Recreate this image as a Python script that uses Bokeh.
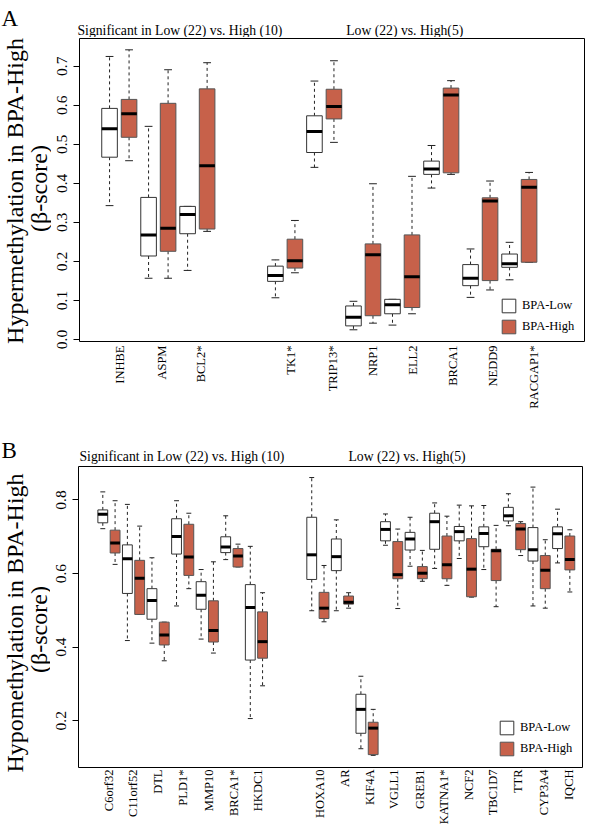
import math
from bokeh.plotting import figure
from bokeh.layouts import column, row
from bokeh.models import (Label, Legend, LegendItem, FixedTicker, Range1d,
                          NumeralTickFormatter)
from bokeh.embed import file_html
from bokeh.resources import INLINE

FONT = "Liberation Serif"
RED = "#C7614A"
WHISK = "#222222"

# ---------------- Panel A data (hypermethylation) ----------------
a_genes = ["INHBE", "ASPM", "BCL2*", "TK1*", "TRIP13*", "NRP1", "ELL2",
           "BRCA1", "NEDD9", "RACGAP1*"]
a_group = [0, 0, 0, 1, 1, 1, 1, 1, 1, 1]
a_low_lower = [0.343, 0.157, 0.177, 0.107, 0.441, 0.025, 0.037, 0.388, 0.108, 0.153]
a_low_q1 = [0.467, 0.214, 0.271, 0.149, 0.479, 0.035, 0.066, 0.423, 0.138, 0.185]
a_low_med = [0.540, 0.268, 0.320, 0.164, 0.533, 0.057, 0.089, 0.437, 0.157, 0.194]
a_low_q3 = [0.592, 0.364, 0.341, 0.188, 0.573, 0.086, 0.103, 0.457, 0.192, 0.219]
a_low_upper = [0.725, 0.546, 0.341, 0.204, 0.662, 0.098, 0.103, 0.497, 0.232, 0.249]
a_high_lower = [0.458, 0.157, 0.277, 0.171, 0.505, 0.042, 0.066, 0.423, 0.127, 0.198]
a_high_q1 = [0.518, 0.226, 0.283, 0.183, 0.565, 0.061, 0.082, 0.427, 0.151, 0.198]
a_high_med = [0.578, 0.285, 0.445, 0.202, 0.597, 0.217, 0.161, 0.626, 0.355, 0.390]
a_high_q3 = [0.615, 0.605, 0.642, 0.257, 0.641, 0.245, 0.268, 0.644, 0.363, 0.410]
a_high_upper = [0.742, 0.691, 0.709, 0.305, 0.714, 0.399, 0.418, 0.663, 0.406, 0.428]
a_yticks = [0.0, 0.1, 0.2, 0.3, 0.4, 0.5, 0.6, 0.7]
a_ytitle = ["Hypermethylation in BPA-High", "(\u03b2-score)"]

# ---------------- Panel B data (hypomethylation) ----------------
b_genes = ["C6orf32", "C11orf52", "DTL", "PLD1*", "MMP10", "BRCA1*", "HKDC1",
           "HOXA10", "AR", "KIF4A", "VGLL1", "GREB1", "KATNA1*", "NCF2",
           "TBC1D7", "TTR", "CYP3A4", "IQCH"]
b_group = [0] * 7 + [1] * 11
b_low_lower = [0.722, 0.418, 0.411, 0.512, 0.422, 0.638, 0.206, 0.499, 0.499,
               0.124, 0.677, 0.620, 0.614, 0.641, 0.611, 0.730, 0.512, 0.629]
b_low_q1 = [0.738, 0.546, 0.476, 0.653, 0.503, 0.657, 0.365, 0.584, 0.608,
            0.166, 0.689, 0.664, 0.666, 0.689, 0.673, 0.743, 0.634, 0.668]
b_low_med = [0.761, 0.640, 0.527, 0.701, 0.541, 0.672, 0.508, 0.651, 0.646,
             0.231, 0.720, 0.694, 0.741, 0.714, 0.709, 0.757, 0.665, 0.708]
b_low_q3 = [0.773, 0.678, 0.559, 0.749, 0.578, 0.700, 0.570, 0.753, 0.694,
            0.272, 0.741, 0.712, 0.764, 0.728, 0.727, 0.780, 0.725, 0.727]
b_low_upper = [0.822, 0.788, 0.643, 0.798, 0.611, 0.757, 0.674, 0.861, 0.746,
               0.321, 0.762, 0.753, 0.792, 0.786, 0.785, 0.817, 0.835, 0.775]
b_high_lower = [0.625, 0.489, 0.363, 0.559, 0.384, 0.618, 0.295, 0.469, 0.506,
                0.106, 0.505, 0.579, 0.568, 0.536, 0.510, 0.649, 0.506, 0.550]
b_high_q1 = [0.656, 0.489, 0.406, 0.595, 0.414, 0.618, 0.370, 0.478, 0.517,
             0.108, 0.586, 0.586, 0.586, 0.537, 0.581, 0.665, 0.559, 0.610]
b_high_med = [0.683, 0.587, 0.433, 0.645, 0.445, 0.648, 0.415, 0.506, 0.522,
              0.180, 0.597, 0.601, 0.624, 0.612, 0.662, 0.721, 0.609, 0.638]
b_high_q3 = [0.718, 0.636, 0.468, 0.734, 0.526, 0.668, 0.496, 0.549, 0.539,
             0.196, 0.687, 0.619, 0.702, 0.695, 0.666, 0.736, 0.649, 0.702]
b_high_upper = [0.798, 0.729, 0.468, 0.764, 0.632, 0.680, 0.548, 0.622, 0.548,
                0.231, 0.721, 0.663, 0.756, 0.784, 0.731, 0.741, 0.692, 0.719]
b_yticks = [0.2, 0.4, 0.6, 0.8]
b_ytitle = ["Hypomethylation in BPA-High", "(\u03b2-score)"]

group_titles = ["Significant in Low (22) vs. High (10)", "Low (22) vs. High(5)"]
legend_labels = ["BPA-Low", "BPA-High"]

# ---------------- layout constants (pixels) ----------------
A_LABEL_SHIFT_PX = [1.1, 3.3, 3.3, 6, 8.4, 9.7, 10.7, 11.7, 13.1, 14.3]
B_LABEL_SHIFT_PX = [-0.2, -0.8, -0.3, 0.3, 1.3, 1.9, 1.1, 2, 2.6, 3, 2.8, 3.5,
                    2.8, 3.8, 3.5, 3.9, 4.5, 5.1]


def positions(group, gap):
    lo, hi, mid = [], [], []
    for i, g in enumerate(group):
        b = 2 * i + 1 + g * gap
        lo.append(b)
        hi.append(b + 1)
        mid.append(b + 0.5)
    return lo, hi, mid


def draw_boxes(p, xs, lower, q1, med, q3, upper, fill, line):
    cl = [x - 0.2 for x in xs]
    cr = [x + 0.2 for x in xs]
    p.segment(x0=xs, y0=q3, x1=xs, y1=upper, line_color=WHISK, line_width=1,
              line_dash="3 3")
    p.segment(x0=xs, y0=q1, x1=xs, y1=lower, line_color=WHISK, line_width=1,
              line_dash="3 3")
    p.segment(x0=cl, y0=upper, x1=cr, y1=upper, line_color=WHISK, line_width=1)
    p.segment(x0=cl, y0=lower, x1=cr, y1=lower, line_color=WHISK, line_width=1)
    box = p.vbar(x=xs, width=0.8, bottom=q1, top=q3, fill_color=fill,
                 line_color=line, line_width=1)
    p.segment(x0=[x - 0.4 for x in xs], y0=med, x1=[x + 0.4 for x in xs], y1=med,
              line_color="black", line_width=3)
    return box


def strip(left, right, top, bottom):
    """A blank text strip whose data coordinates equal page pixels."""
    s = figure(width=right - left, height=bottom - top, output_backend="svg",
               toolbar_location=None, title=None, x_axis_location=None,
               y_axis_location=None, x_range=Range1d(left, right),
               y_range=Range1d(bottom, top), min_border=0)
    s.grid.visible = False
    s.outline_line_color = None
    s.background_fill_color = "white"
    s.border_fill_color = "white"
    return s


def add_label(p, x, y, text, size, angle=0.0, align="left", baseline="alphabetic"):
    p.add_layout(Label(x=x, y=y, text=text, angle=angle, text_align=align,
                       text_baseline=baseline, text_font=FONT,
                       text_font_size=size, text_color="black"))


def panel(width, height, borders, xr, yr, yticks, genes, group, gap, low, high,
          shift_px, unit_px, label_standoff, legend_loc):
    p = figure(width=width, height=height, output_backend="svg",
               toolbar_location=None, title=None,
               x_range=Range1d(*xr), y_range=Range1d(*yr),
               min_border_left=borders[0], min_border_right=borders[1],
               min_border_top=borders[2], min_border_bottom=borders[3])
    p.grid.visible = False
    p.outline_line_color = "black"
    p.outline_line_width = 1
    p.background_fill_color = "white"
    p.border_fill_color = "white"

    ya = p.yaxis[0]
    ya.ticker = FixedTicker(ticks=yticks)
    ya.formatter = NumeralTickFormatter(format="0.0")
    ya.axis_line_color = None
    ya.major_tick_out = 6
    ya.major_tick_in = 0
    ya.major_tick_line_color = "black"
    ya.minor_tick_line_color = None
    ya.major_label_orientation = "parallel"
    ya.major_label_standoff = 6
    ya.major_label_text_font = FONT
    ya.major_label_text_font_size = "15.5px"
    ya.major_label_text_color = "black"

    lo_x, hi_x, mid_x = positions(group, gap)
    tick_x = [m + s / unit_px for m, s in zip(mid_x, shift_px)]
    xa = p.xaxis[0]
    xa.ticker = FixedTicker(ticks=tick_x)
    xa.major_label_overrides = {t: g for t, g in zip(tick_x, genes)}
    xa.axis_line_color = None
    xa.major_tick_line_color = None
    xa.major_tick_out = 0
    xa.major_tick_in = 0
    xa.minor_tick_line_color = None
    xa.major_label_orientation = math.pi / 2
    xa.major_label_standoff = label_standoff
    xa.major_label_text_font = FONT
    xa.major_label_text_font_size = "12.5px"
    xa.major_label_text_color = "black"

    low_box = draw_boxes(p, lo_x, *low, fill="white", line="#333333")
    high_box = draw_boxes(p, hi_x, *high, fill=RED, line="#555555")

    legend = Legend(items=[LegendItem(label=legend_labels[0], renderers=[low_box]),
                           LegendItem(label=legend_labels[1], renderers=[high_box])],
                    location=legend_loc, border_line_color=None,
                    background_fill_alpha=0, padding=0, margin=0, spacing=4,
                    glyph_width=17, glyph_height=17, label_height=17,
                    label_standoff=5, label_text_font=FONT,
                    label_text_font_size="12.5px", label_text_color="black")
    p.add_layout(legend)
    return p


def head_strip(top, bottom, letter, letter_pos, title_pos):
    s = strip(0, 600, top, bottom)
    add_label(s, letter_pos[0], letter_pos[1], letter, "23px")
    for t, (tx, ty) in zip(group_titles, title_pos):
        add_label(s, tx, ty, t, "13.7px")
    return s


def ytitle_strip(right, top, bottom, lines, centers):
    s = strip(0, right, top, bottom)
    for t, (cx, cy) in zip(lines, centers):
        add_label(s, cx, cy, t, "24px", angle=math.pi / 2, align="center",
                  baseline="middle")
    return s


# ---------- Panel A (page rows 0..412) ----------
headA = head_strip(0, 37, "A", (1, 17.5), [(77, 29.5), (345.7, 29.5)])
leftA = ytitle_strip(51, 37, 412, a_ytitle, [(14, 190.5), (38.5, 188)])
pA = panel(549, 375, (28, 16, 1, 71), (-0.54, 25.34), (-0.005, 0.771), a_yticks,
           a_genes, a_group, 2.5,
           (a_low_lower, a_low_q1, a_low_med, a_low_q3, a_low_upper),
           (a_high_lower, a_high_q1, a_high_med, a_high_q3, a_high_upper),
           A_LABEL_SHIFT_PX, 19.5, 4, (421, 6))

# ---------- Panel B (page rows 412..827) ----------
headB = head_strip(412, 465, "B", (1, 449.5), [(79, 455.5), (348, 455.5)])
leftB = ytitle_strip(50, 465, 827, b_ytitle, [(14.5, 622.5), (38, 629)])
pB = panel(550, 362, (28, 18, 1, 59), (-0.977, 40.03), (0.073, 0.891), b_yticks,
           b_genes, b_group, 3.0,
           (b_low_lower, b_low_q1, b_low_med, b_low_q3, b_low_upper),
           (b_high_lower, b_high_q1, b_high_med, b_high_q3, b_high_upper),
           B_LABEL_SHIFT_PX, 12.29, 2, (420, 10))

# plots are wrapped in their own columns so their frames are not aligned
# with the neighbouring text strips
layout = column(headA, row(leftA, column(pA, spacing=0), spacing=0),
                headB, row(leftB, column(pB, spacing=0), spacing=0),
                spacing=0)
open("out.html", "w").write(file_html(layout, INLINE))
